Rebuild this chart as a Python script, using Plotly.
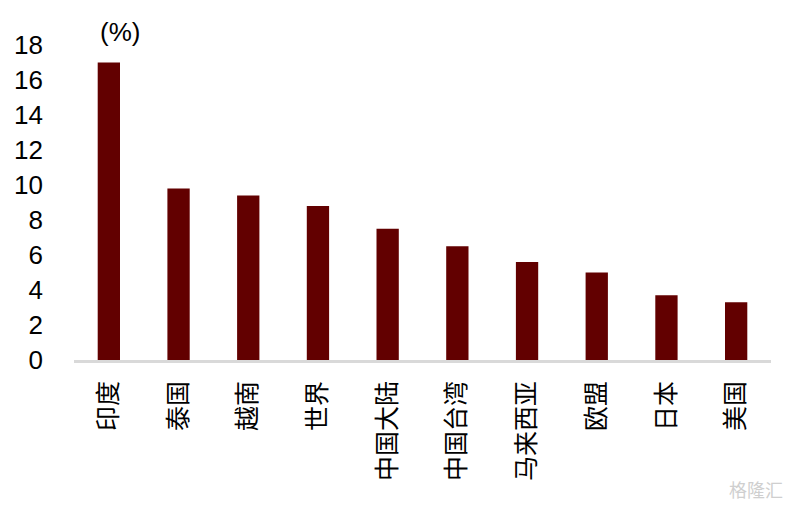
import plotly.graph_objects as go

# 各经济体数值 (%)
regioes = ["印度", "泰国", "越南", "世界", "中国大陆", "中国台湾", "马来西亚", "欧盟", "日本", "美国"]
valores = [17.0, 9.8, 9.4, 8.8, 7.5, 6.5, 5.6, 5.0, 3.7, 3.3]
y_ticks = [0, 2, 4, 6, 8, 10, 12, 14, 16, 18]

fonte = "Liberation Sans, Arial, Noto Sans CJK SC"

fig = go.Figure()
fig.add_trace(go.Bar(x=regioes, y=valores, marker_color="#620000", marker_line_width=0))

# a página tem 8px de margem no body, por isso as margens são compensadas
fig.update_layout(
    width=792, height=505,
    margin=dict(l=66, r=29, t=37, b=153),
    plot_bgcolor="white", paper_bgcolor="white",
    bargap=0.68,
    showlegend=False,
    font=dict(family=fonte, color="#000000"),
)
fig.update_yaxes(
    range=[0, 18], tickvals=y_ticks, showgrid=False, zeroline=False,
    showline=False, tickfont=dict(size=26, family=fonte), ticklabelstandoff=30,
    automargin=False,
)
fig.update_xaxes(
    showgrid=False, showline=True, linecolor="#d9d9d9", linewidth=3,
    tickangle=-90, tickfont=dict(size=25, family="Noto Sans CJK SC"),
    ticks="outside", ticklen=8, tickcolor="rgba(0,0,0,0)",
    automargin=False,
)
fig.add_annotation(
    text="(%)", xref="paper", yref="paper", x=0.034, y=1.0,
    xanchor="left", yanchor="bottom", showarrow=False, yshift=-4,
    font=dict(size=26, family=fonte),
)
# marca d'água
fig.add_annotation(
    text="格隆汇", xref="paper", yref="paper", x=1.02, y=-0.41,
    xanchor="right", yanchor="middle", showarrow=False,
    font=dict(size=18, color="#cfcfcf", family="Noto Sans CJK SC"),
)

fig.write_html("out.html")
